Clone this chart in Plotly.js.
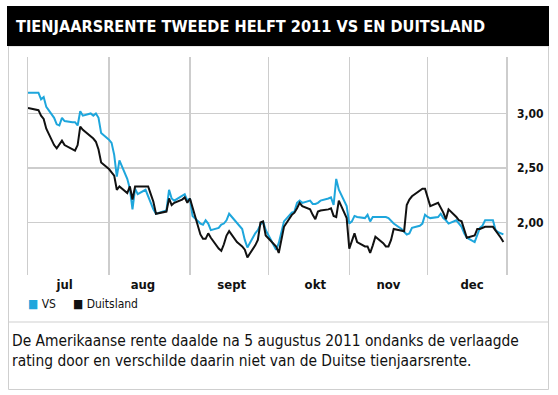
<!DOCTYPE html>
<html><head><meta charset="utf-8">
<script src="https://cdn.plot.ly/plotly-3.0.1.min.js"></script>
<style>html,body{margin:0;padding:0;background:#fff;} #chart{width:558px;height:395px;}</style>
</head><body><div id="chart"></div>
<script>
const dates = [
 '2011-07-01','2011-07-04','2011-07-05','2011-07-06','2011-07-07','2011-07-08','2011-07-11','2011-07-12','2011-07-13','2011-07-14','2011-07-15','2011-07-18','2011-07-19','2011-07-20','2011-07-21','2011-07-22','2011-07-25','2011-07-26','2011-07-27','2011-07-28','2011-07-29',
 '2011-08-01','2011-08-02','2011-08-03','2011-08-04','2011-08-05','2011-08-08','2011-08-09','2011-08-10','2011-08-11','2011-08-12','2011-08-15','2011-08-16','2011-08-17','2011-08-18','2011-08-19','2011-08-22','2011-08-23','2011-08-24','2011-08-25','2011-08-26','2011-08-29','2011-08-30','2011-08-31',
 '2011-09-01','2011-09-02','2011-09-05','2011-09-06','2011-09-07','2011-09-08','2011-09-09','2011-09-12','2011-09-13','2011-09-14','2011-09-15','2011-09-16','2011-09-19','2011-09-20','2011-09-21','2011-09-22','2011-09-23','2011-09-26','2011-09-27','2011-09-28','2011-09-29','2011-09-30',
 '2011-10-03','2011-10-04','2011-10-05','2011-10-06','2011-10-07','2011-10-10','2011-10-11','2011-10-12','2011-10-13','2011-10-14','2011-10-17','2011-10-18','2011-10-19','2011-10-20','2011-10-21','2011-10-24','2011-10-25','2011-10-26','2011-10-27','2011-10-28','2011-10-31',
 '2011-11-01','2011-11-02','2011-11-03','2011-11-04','2011-11-07','2011-11-08','2011-11-09','2011-11-10','2011-11-11','2011-11-14','2011-11-15','2011-11-16','2011-11-17','2011-11-18','2011-11-21','2011-11-22','2011-11-23','2011-11-24','2011-11-25','2011-11-28','2011-11-29','2011-11-30',
 '2011-12-01','2011-12-02','2011-12-05','2011-12-06','2011-12-07','2011-12-08','2011-12-09','2011-12-12','2011-12-13','2011-12-14','2011-12-15','2011-12-16','2011-12-19','2011-12-20','2011-12-21','2011-12-22','2011-12-23','2011-12-26','2011-12-27','2011-12-28','2011-12-29','2011-12-30'
];
const vs = [
 3.19,3.19,3.19,3.13,3.15,3.06,2.96,2.90,2.89,2.96,2.93,2.92,2.92,2.89,3.02,2.98,3.00,2.98,3.00,2.96,2.82,
 2.76,2.73,2.62,2.42,2.57,2.40,2.31,2.12,2.31,2.26,2.30,2.24,2.19,2.12,2.08,2.10,2.11,2.30,2.22,2.20,2.24,2.26,2.20,
 2.22,2.06,1.99,1.98,2.02,1.99,1.93,1.95,1.98,1.99,2.02,2.08,2.00,1.97,1.94,1.84,1.77,1.90,1.93,1.98,2.01,1.93,
 1.79,1.75,1.81,1.92,2.01,2.09,2.10,2.18,2.20,2.18,2.20,2.17,2.17,2.18,2.20,2.22,2.23,2.16,2.40,2.30,2.15,
 1.99,2.01,2.06,2.05,2.04,2.07,2.01,2.05,2.05,2.05,2.05,2.04,2.01,1.99,1.94,1.91,1.89,1.90,1.95,1.97,1.99,2.07,
 2.05,2.04,2.05,2.08,2.04,2.02,1.99,2.02,1.99,1.96,1.90,1.86,1.82,1.89,1.95,1.97,2.02,2.02,1.93,1.91,1.90,1.89
];
const duitsland = [
 3.05,3.04,3.03,2.98,2.95,2.86,2.71,2.68,2.72,2.75,2.71,2.67,2.66,2.71,2.88,2.85,2.79,2.77,2.74,2.67,2.55,
 2.49,2.46,2.43,2.30,2.33,2.27,2.33,2.21,2.33,2.33,2.33,2.33,2.26,2.19,2.08,2.10,2.10,2.22,2.16,2.18,2.21,2.23,2.18,
 2.22,2.14,1.89,1.85,1.85,1.90,1.86,1.76,1.74,1.80,1.88,1.92,1.82,1.80,1.78,1.75,1.68,1.79,1.84,2.00,2.01,1.88,
 1.81,1.78,1.72,1.85,1.96,2.07,2.09,2.13,2.18,2.15,2.12,2.07,2.03,2.10,2.11,2.12,2.13,2.06,2.05,2.20,2.04,
 1.76,1.84,1.90,1.82,1.78,1.78,1.72,1.79,1.87,1.81,1.78,1.78,1.84,1.94,1.93,1.92,2.16,2.21,2.24,2.29,2.31,2.31,
 2.24,2.15,2.18,2.14,2.09,2.03,2.12,2.05,2.02,2.01,1.93,1.86,1.88,1.94,1.94,1.95,1.96,1.96,1.93,1.89,1.86,1.82
];
const monthStarts = ['2011-07-01','2011-08-01','2011-09-01','2011-10-01','2011-11-01','2011-12-01'];
const monthLabelDates = ['2011-07-15','2011-08-14','2011-09-17','2011-10-19','2011-11-16','2011-12-18'];
const monthLabels = ['jul','aug','sept','okt','nov','dec'];
const yTicks = [2, 2.5, 3];
const yTickLabels = ['2,00','2,50','3,00'];
const seriesNames = ['VS','Duitsland'];
const seriesColors = ['#1ea6dc','#111111'];
const titleText = 'TIENJAARSRENTE TWEEDE HELFT 2011 VS EN DUITSLAND';
const captionLines = ['De Amerikaanse rente daalde na 5 augustus 2011 ondanks de verlaagde',
                      'rating door en verschilde daarin niet van de Duitse tienjaarsrente.'];

const W = 558, H = 395;
const px = x => x / W;
const py = y => 1 - y / H;
const FONT = 'DejaVu Sans Condensed, Liberation Sans Narrow, sans-serif';
const GRID = '#cdcdcd';

const traces = [
  {x: dates, y: vs, type: 'scatter', mode: 'lines', name: seriesNames[0],
   line: {color: seriesColors[0], width: 2}},
  {x: dates, y: duitsland, type: 'scatter', mode: 'lines', name: seriesNames[1],
   line: {color: seriesColors[1], width: 2}}
];

const layout = {
  width: W, height: H,
  margin: {l: 0, r: 0, t: 0, b: 0},
  paper_bgcolor: '#fff', plot_bgcolor: '#fff',
  showlegend: false,
  font: {family: FONT, color: '#111'},
  xaxis: {
    type: 'date', range: ['2011-07-01', '2011-12-31'],
    domain: [px(28), px(506)],
    tickmode: 'array', tickvals: monthLabelDates, ticktext: monthLabels,
    showgrid: false, zeroline: false, showline: false, ticks: '',
    tickfont: {family: FONT, size: 13, color: '#111', weight: 'bold'},
    minor: {tickmode: 'array', tickvals: monthStarts, showgrid: true, gridcolor: GRID, gridwidth: 1.5, ticks: ''}
  },
  yaxis: {
    side: 'right', range: [1.518, 3.518],
    domain: [py(275), py(57)],
    tickmode: 'array', tickvals: yTicks, ticktext: yTickLabels,
    showgrid: true, gridcolor: GRID, gridwidth: 1.5, zeroline: false,
    showline: true, mirror: true, linecolor: GRID, linewidth: 1.5,
    ticks: 'outside', ticklen: 7, tickcolor: 'rgba(0,0,0,0)',
    tickfont: {family: FONT, size: 12, color: '#111', weight: 'bold'}
  },
  shapes: [
    {type: 'rect', xref: 'paper', yref: 'paper', x0: px(8.5), x1: px(548.5), y0: py(389.5), y1: py(46),
     line: {color: '#cfcfcf', width: 1}, fillcolor: 'rgba(0,0,0,0)', layer: 'below'},
    {type: 'rect', xref: 'paper', yref: 'paper', x0: px(7), x1: px(549), y0: py(46), y1: py(6),
     line: {width: 0}, fillcolor: '#000', layer: 'below'},
    {type: 'line', xref: 'paper', yref: 'paper', x0: px(8.5), x1: px(548.5), y0: py(322), y1: py(322),
     line: {color: '#cfcfcf', width: 1}, layer: 'below'}
  ],
  annotations: [
    {xref: 'paper', yref: 'paper', x: px(14), y: py(26), xanchor: 'left', yanchor: 'middle', showarrow: false,
     text: titleText, font: {family: FONT, size: 16.2, color: '#fff', weight: 'bold'}},
    {xref: 'paper', yref: 'paper', x: px(26), y: py(304), xanchor: 'left', yanchor: 'middle', showarrow: false,
     text: '<span style="color:' + seriesColors[0] + '">■</span> ' + seriesNames[0],
     font: {family: FONT, size: 12, color: '#111'}},
    {xref: 'paper', yref: 'paper', x: px(71), y: py(304), xanchor: 'left', yanchor: 'middle', showarrow: false,
     text: '<span style="color:' + seriesColors[1] + '">■</span> ' + seriesNames[1],
     font: {family: FONT, size: 12, color: '#111'}},
    {xref: 'paper', yref: 'paper', x: px(10), y: py(351), xanchor: 'left', yanchor: 'middle', align: 'left', showarrow: false,
     text: captionLines.join('<br>'), font: {family: FONT, size: 15.4, color: '#111'}}
  ]
};

Plotly.newPlot('chart', traces, layout, {staticPlot: true, displayModeBar: false});
</script>
</body></html>
